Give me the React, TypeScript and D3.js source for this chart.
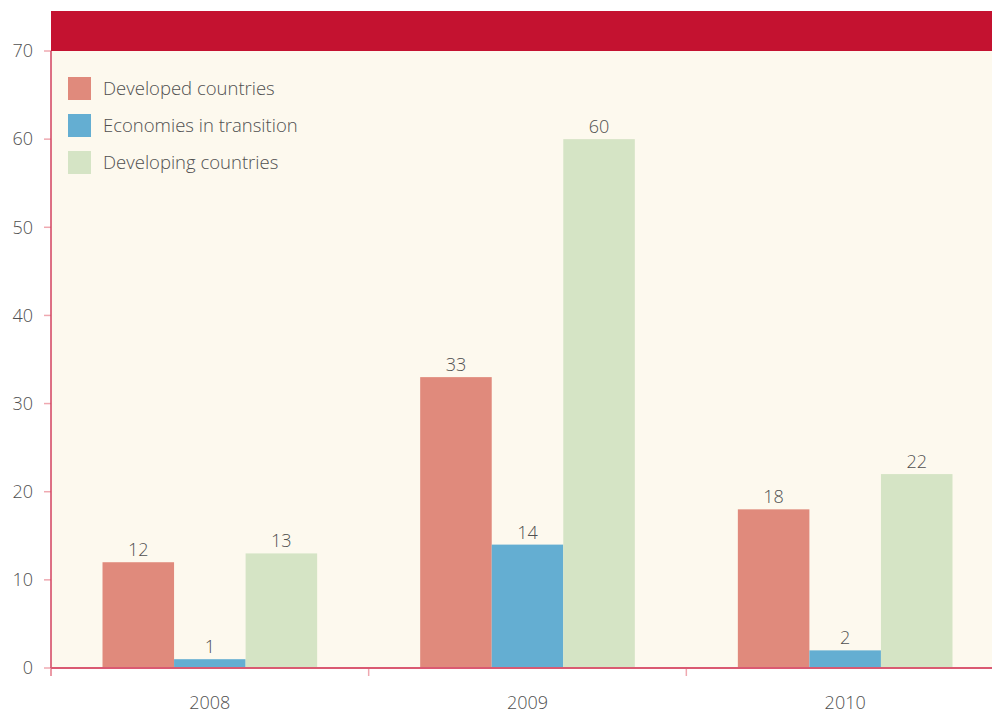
import { useRef, useEffect } from "react";
import * as d3 from "d3";

// ── Data ─────────────────────────────────────────────────────────────────────

const years = ["2008", "2009", "2010"];
const seriesNames = ["Developed countries", "Economies in transition", "Developing countries"];
const developed = [12, 33, 18];
const transition = [1, 14, 2];
const developing = [13, 60, 22];
const yTicks = [0, 10, 20, 30, 40, 50, 60, 70];

const COLORS = ["#E08A7C", "#64AED2", "#D5E4C5"];

const W = 992;
const H = 713;
const PLOT = { left: 51, top: 51, bottom: 668, right: 1004 };
const FONT = "'Open Sans', 'Noto Sans', sans-serif";
const TEXT = "#505050";

export default function App() {
  const svgRef = useRef<SVGSVGElement>(null);

  useEffect(() => {
    if (!svgRef.current) return;
    const svg = d3.select(svgRef.current);
    svg.selectAll("*").remove();

    const values = [developed, transition, developing];

    // ── Scales ──────────────────────────────────────────────────────────────
    const x0 = d3.scaleBand().domain(years).range([PLOT.left, PLOT.right]).padding(0);
    const x1 = d3
      .scaleBand()
      .domain(seriesNames)
      .range([0, x0.bandwidth()])
      .paddingInner(0)
      .paddingOuter(0.72);
    const y = d3.scaleLinear().domain([0, 70]).range([PLOT.bottom, PLOT.top]);

    // ── Background + header band ────────────────────────────────────────────
    svg.append("rect")
      .attr("x", PLOT.left).attr("y", PLOT.top)
      .attr("width", W - PLOT.left).attr("height", PLOT.bottom - PLOT.top)
      .attr("fill", "#FDF9EE");

    svg.append("rect")
      .attr("x", PLOT.left).attr("y", 11)
      .attr("width", W - PLOT.left).attr("height", PLOT.top - 11)
      .attr("fill", "#C41230");

    // ── Bars ────────────────────────────────────────────────────────────────
    seriesNames.forEach((name, si) => {
      const g = svg.append("g");
      g.selectAll("rect")
        .data(values[si])
        .enter()
        .append("rect")
        .attr("x", (_d, i) => (x0(years[i]) ?? 0) + (x1(name) ?? 0))
        .attr("y", (d) => y(d))
        .attr("width", x1.bandwidth())
        .attr("height", (d) => y(0) - y(d))
        .attr("fill", COLORS[si]);

      g.selectAll("text")
        .data(values[si])
        .enter()
        .append("text")
        .attr("x", (_d, i) => (x0(years[i]) ?? 0) + (x1(name) ?? 0) + x1.bandwidth() / 2)
        .attr("y", (d) => y(d) - 6)
        .attr("text-anchor", "middle")
        .attr("font-family", FONT)
        .attr("font-weight", 300)
        .attr("font-size", 18)
        .attr("fill", TEXT)
        .text((d) => d);
    });

    // ── Y axis ──────────────────────────────────────────────────────────────
    const yAxis = svg.append("g").attr("transform", `translate(${PLOT.left},0)`);
    yAxis.selectAll("line")
      .data(yTicks)
      .enter()
      .append("line")
      .attr("x1", -7).attr("x2", 0)
      .attr("y1", (d) => y(d)).attr("y2", (d) => y(d))
      .attr("stroke", "#EFA8B0").attr("stroke-width", 1.5);
    yAxis.selectAll("text")
      .data(yTicks)
      .enter()
      .append("text")
      .attr("x", -18)
      .attr("y", (d) => y(d))
      .attr("dy", "0.35em")
      .attr("text-anchor", "end")
      .attr("font-family", FONT)
      .attr("font-weight", 300)
      .attr("font-size", 18)
      .attr("fill", TEXT)
      .text((d) => d);
    yAxis.append("line")
      .attr("x1", 0).attr("x2", 0)
      .attr("y1", PLOT.top).attr("y2", PLOT.bottom + 8)
      .attr("stroke", "#D2405E").attr("stroke-width", 1.5);

    // ── X axis ──────────────────────────────────────────────────────────────
    const xAxis = svg.append("g");
    xAxis.selectAll("line.tick")
      .data(years)
      .enter()
      .append("line")
      .attr("class", "tick")
      .attr("x1", (d) => x0(d) ?? 0).attr("x2", (d) => x0(d) ?? 0)
      .attr("y1", PLOT.bottom).attr("y2", PLOT.bottom + 8)
      .attr("stroke", "#EFA8B0").attr("stroke-width", 1.5);
    xAxis.append("line")
      .attr("x1", PLOT.left).attr("x2", W)
      .attr("y1", PLOT.bottom).attr("y2", PLOT.bottom)
      .attr("stroke", "#DA5A72").attr("stroke-width", 2);
    xAxis.selectAll("text")
      .data(years)
      .enter()
      .append("text")
      .attr("x", (d) => (x0(d) ?? 0) + x0.bandwidth() / 2)
      .attr("y", 709)
      .attr("text-anchor", "middle")
      .attr("font-family", FONT)
      .attr("font-weight", 300)
      .attr("font-size", 18)
      .attr("fill", TEXT)
      .text((d) => d);

    // ── Legend ──────────────────────────────────────────────────────────────
    const legend = svg.append("g").attr("transform", "translate(68,77)");
    seriesNames.forEach((name, i) => {
      const row = legend.append("g").attr("transform", `translate(0,${i * 37})`);
      row.append("rect").attr("width", 23).attr("height", 23).attr("fill", COLORS[i]);
      row.append("text")
        .attr("x", 35).attr("y", 11.5)
        .attr("dy", "0.35em")
        .attr("font-family", FONT)
        .attr("font-weight", 300)
        .attr("font-size", 18.5)
        .attr("fill", TEXT)
        .text(name);
    });
  }, []);

  return (
    <svg
      ref={svgRef}
      width={W}
      height={H}
      style={{ position: "absolute", left: 0, top: 0, background: "#fff" }}
    />
  );
}
